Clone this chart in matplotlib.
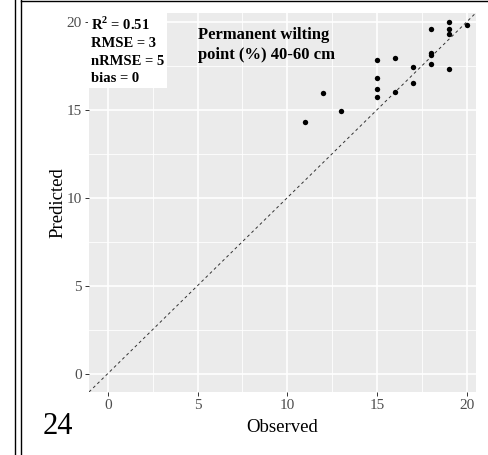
import matplotlib.pyplot as plt
from matplotlib.lines import Line2D
import numpy as np

# observed vs predicted
observed = [11, 12, 13, 15, 15, 15, 15, 16, 16, 17, 17, 18, 18, 18, 18, 19, 19, 19, 19, 20]
predicted = [14.3, 15.95, 14.9, 17.85, 16.8, 16.2, 15.75, 17.95, 16.0, 17.4, 16.5,
             19.6, 18.2, 18.1, 17.6, 20.0, 19.6, 19.3, 17.3, 19.8]
stats_lines = ['R$^\\mathbf{2}$ = 0.51', 'RMSE = 3', 'nRMSE = 5', 'bias = 0']
title = 'Permanent wilting\npoint (%) 40-60 cm'
ticks = [0, 5, 10, 15, 20]
minor = [2.5, 7.5, 12.5, 17.5]
panel_no = '24'

plt.rcParams['font.family'] = ['Liberation Serif', 'DejaVu Serif']
plt.rcParams['mathtext.fontset'] = 'custom'
plt.rcParams['mathtext.bf'] = 'Liberation Serif:bold'
plt.rcParams['mathtext.rm'] = 'Liberation Serif'

fig = plt.figure(figsize=(4.89, 4.55), dpi=100)
ax = fig.add_axes([0.182, 0.1385, 0.791, 0.833])
ax.set_facecolor('#EBEBEB')
lim = (-1.05, 20.5)
ax.set_xlim(lim)
ax.set_ylim(lim)

for v in minor:
    ax.axvline(v, color='white', lw=0.6, zorder=0)
    ax.axhline(v, color='white', lw=0.6, zorder=0)
for v in ticks:
    ax.axvline(v, color='white', lw=1.2, zorder=0)
    ax.axhline(v, color='white', lw=1.2, zorder=0)

ax.plot(lim, lim, ls=(0, (3, 3)), color='#333333', lw=0.7, zorder=1)
ax.scatter(observed, predicted, s=15, color='black', zorder=2, linewidths=0)

ax.set_xticks(ticks)
ax.set_yticks(ticks)
ax.tick_params(length=3, width=0.7, color='#333333', labelcolor='#4D4D4D',
               labelsize=11, pad=2)
for s in ax.spines.values():
    s.set_visible(False)

ax.set_xlabel('Observed', fontsize=13.5, labelpad=5)
ax.set_ylabel('Predicted', fontsize=13.5, labelpad=0)

ax.text(0.006, 0.992, '\n'.join(stats_lines), transform=ax.transAxes,
        ha='left', va='top', fontsize=10.5, fontweight='bold', linespacing=1.42,
        bbox=dict(boxstyle='square,pad=0.2', fc='white', ec='none'))
ax.text(0.283, 0.962, title, transform=ax.transAxes, ha='left', va='top',
        fontsize=12, fontweight='bold', linespacing=1.3)

fig.text(43 / 489, 1 - 426 / 455, panel_no, fontsize=22, ha='left', va='center')

# page frame lines
fig.add_artist(Line2D([15 / 489, 15 / 489], [0, 1], color='black', lw=1))
fig.add_artist(Line2D([21 / 489, 21 / 489], [0, 1], color='black', lw=1))
fig.add_artist(Line2D([21 / 489, 1], [1 - 1 / 455, 1 - 1 / 455], color='black', lw=1))

fig.savefig('out.png', dpi=100)
